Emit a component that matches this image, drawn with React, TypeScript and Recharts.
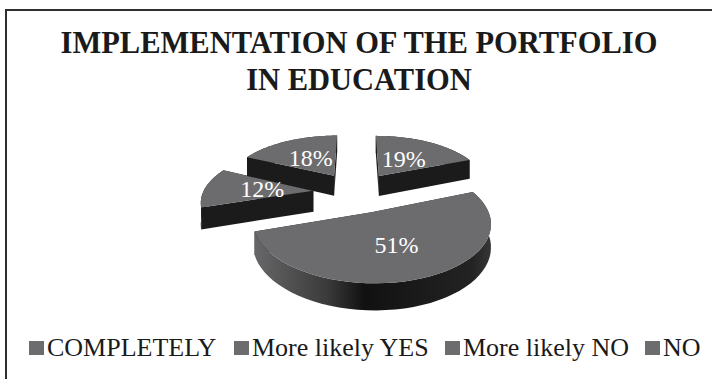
import React from "react";
import { PieChart, Pie, Cell, Legend } from "recharts";

const categories = ["COMPLETELY", "More likely YES", "More likely NO", "NO"];
const shares = [19, 51, 12, 18];
const titleLines = ["IMPLEMENTATION OF THE PORTFOLIO", "IN EDUCATION"];

const rows = categories.map((name, i) => ({ name, value: shares[i] }));

const SERIF = "'Liberation Serif', serif";
const FACE = "#6c6c6e";
const WALL = "#1b1b1b";

// Projection of the flat pie onto the tilted, perspective view.
const TILT = 0.47;
const VIEW_DISTANCE = 667;
const EXPLODE = 43;
const THICKNESS = 21;
const RAD = Math.PI / 180;

type Pt = { x: number; y: number; s: number };

function project(cx: number, cy: number, wx: number, wy: number): Pt {
  const s = 1 / (1 + wy / VIEW_DISTANCE);
  return { x: cx + wx * s, y: cy - wy * TILT * s, s };
}

function polar(r: number, deg: number) {
  return { x: r * Math.cos(deg * RAD), y: r * Math.sin(deg * RAD) };
}

function toPath(points: { x: number; y: number }[]) {
  return points.map((p, i) => `${i ? "L" : "M"}${p.x.toFixed(1)} ${p.y.toFixed(1)}`).join(" ") + " Z";
}

const drop = (p: Pt) => ({ x: p.x, y: p.y + THICKNESS * p.s });

function Slice3D(props: any) {
  const { cx, cy, outerRadius, startAngle, endAngle, index } = props;
  const mid = (startAngle + endAngle) / 2;
  const off = polar(EXPLODE, mid);
  const apex = project(cx, cy, off.x, off.y);
  const steps = 48;
  const arc: Pt[] = [];
  for (let i = 0; i <= steps; i++) {
    const a = startAngle + ((endAngle - startAngle) * i) / steps;
    const p = polar(outerRadius, a);
    arc.push(project(cx, cy, off.x + p.x, off.y + p.y));
  }
  const first = arc[0];
  const last = arc[arc.length - 1];
  const gradientId = `rim-${index}`;
  return (
    <g>
      <defs>
        <linearGradient id={gradientId} gradientUnits="userSpaceOnUse" x1={cx - 100} x2={cx + 140} y1={0} y2={0}>
          <stop offset="0" stopColor="#666668" />
          <stop offset="0.3" stopColor="#3a3a3a" />
          <stop offset="0.45" stopColor="#111111" />
          <stop offset="0.9" stopColor="#232323" />
          <stop offset="1" stopColor="#3c3c3c" />
        </linearGradient>
      </defs>
      <path d={toPath([apex, first, drop(first), drop(apex)])} fill={WALL} />
      <path d={toPath([apex, last, drop(last), drop(apex)])} fill={WALL} />
      <path
        d={toPath([...arc, ...arc.slice().reverse().map(drop)])}
        fill={index === 1 ? `url(#${gradientId})` : WALL}
      />
      <path d={toPath([apex, ...arc])} fill={FACE} />
    </g>
  );
}

function sliceLabel(props: any) {
  const { cx, cy, startAngle, endAngle, value, outerRadius } = props;
  const mid = (startAngle + endAngle) / 2;
  const off = polar(EXPLODE, mid);
  const reach = outerRadius * (value > 25 ? 0.54 : 0.47);
  const p = polar(reach, mid);
  const at = project(cx, cy, off.x + p.x, off.y + p.y);
  return (
    <text x={at.x} y={at.y} fill="#ffffff" fontFamily={SERIF} fontSize={24} textAnchor="middle" dominantBaseline="central">
      {value}%
    </text>
  );
}

const legendLefts = [29, 234, 445, 645];

function LegendRow({ payload }: any) {
  return (
    <div style={{ position: "relative", height: 30, width: 712 }}>
      {(payload ?? []).map((item: any, i: number) => (
        <div
          key={item.value}
          style={{
            position: "absolute",
            left: legendLefts[i],
            top: 0,
            display: "flex",
            alignItems: "center",
            fontFamily: SERIF,
            fontSize: 26,
            color: "#1a1a1a",
            whiteSpace: "nowrap",
          }}
        >
          <span style={{ width: 15, height: 14, background: FACE, marginRight: 3, display: "inline-block" }} />
          {item.value}
        </div>
      ))}
    </div>
  );
}

export default function App() {
  return (
    <div style={{ position: "absolute", left: 0, top: 0, width: 712, height: 379, background: "#fff", overflow: "hidden" }}>
      <PieChart width={712} height={379} margin={{ top: 0, right: 0, bottom: 0, left: 0 }}>
        <path d="M6 379 V10 H712" fill="none" stroke="#2e2e2e" strokeWidth={2} />
        {titleLines.map((line, i) => (
          <text
            key={line}
            x={359}
            y={53 + i * 37}
            textAnchor="middle"
            fontFamily={SERIF}
            fontWeight="bold"
            fontSize={30.5}
            fill="#1a1a1a"
          >
            {line}
          </text>
        ))}
        <Pie
          data={rows}
          dataKey="value"
          nameKey="name"
          cx={356}
          cy={192}
          outerRadius={110}
          startAngle={90}
          endAngle={-270}
          stroke="none"
          isAnimationActive={false}
          shape={Slice3D}
          label={sliceLabel}
          labelLine={false}
        >
          {rows.map((r) => (
            <Cell key={r.name} fill={FACE} />
          ))}
        </Pie>
        <Legend
          content={<LegendRow />}
          verticalAlign="bottom"
          itemSorter={null}
          wrapperStyle={{ left: 0, top: 333, width: 712 }}
        />
      </PieChart>
    </div>
  );
}
